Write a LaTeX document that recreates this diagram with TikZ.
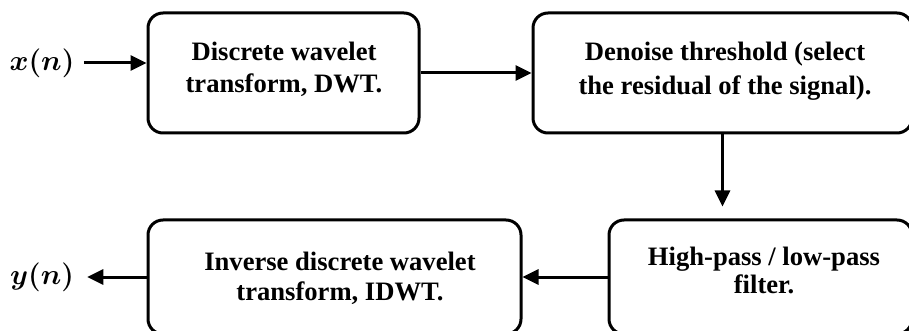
\documentclass[tikz,border=0pt]{standalone}
\usepackage{fontspec}
\usepackage{amsmath,bm}
\setmainfont{Liberation Serif}
\usetikzlibrary{arrows.meta,fit}

\begin{document}
\begin{tikzpicture}[x=0.5pt,y=-0.5pt,
  box/.style={draw=black,line width=1.5pt,rounded corners=7.5pt,inner sep=0pt},
  lbl/.style={align=center,inner sep=0pt,font=\bfseries\fontsize{13.3}{16}\selectfont},
  sig/.style={inner sep=4.5pt,font=\fontsize{14}{16}\selectfont},
  arr/.style={line width=1.5pt,-{Triangle[length=8pt,width=7.5pt]}}]
  \useasboundingbox (0,0) rectangle (909,331);
  \clip (0,0) rectangle (909,331);

  % processing blocks
  \node[box,fit={(148,13) (419,133)}] (b1) {};
  \node[box,fit={(533,13) (912,133)}] (b2) {};
  \node[box,fit={(609,220) (912,334)}] (b3) {};
  \node[box,fit={(148,220) (521,334)}] (b4) {};

  % block captions
  \node[lbl] (t1) at (284,69) {Discrete wavelet\\transform, DWT.};
  \node[lbl,font=\bfseries\fontsize{13.3}{17}\selectfont] (t2) at (725,71) {Denoise threshold (select\\the residual of the signal).};
  \node[lbl,font=\bfseries\fontsize{13.3}{14}\selectfont] (t3) at (764,270) {High-pass / low-pass\\filter.};
  \node[lbl,font=\bfseries\fontsize{13.3}{15}\selectfont] (t4) at (340,278) {Inverse discrete wavelet\\transform, IDWT.};

  % input and output signals
  \node[sig] (xn) at (42,63) {$\bm{x(n)}$};
  \node[sig] (yn) at (42,277) {$\bm{y(n)}$};

  % signal flow
  \draw[arr] (xn.east) -- (xn.east -| b1.west);
  \draw[arr] (b1.east) -- (b2.west);
  \draw[arr,shorten >=6pt] (b2.south) -- (b2.south |- b3.north);
  \draw[arr] (b3.west) -- (b3.west -| b4.east);
  \draw[arr,shorten >=2pt] (b4.west) -- (b4.west -| yn.east);
\end{tikzpicture}
\end{document}
